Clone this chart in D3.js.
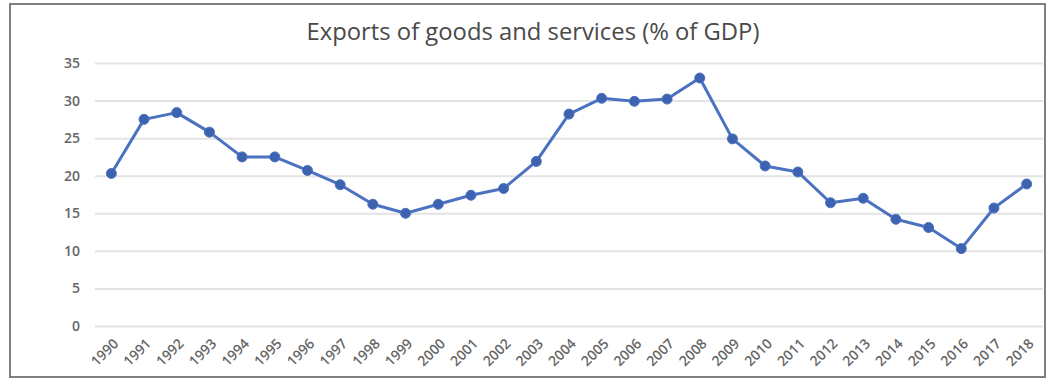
<!DOCTYPE html>
<html><head><meta charset="utf-8">
<script src="https://cdn.jsdelivr.net/npm/d3@7"></script>
<style>body{margin:0;background:#fff}svg{display:block}</style>
</head><body>
<script>
const years = ["1990","1991","1992","1993","1994","1995","1996","1997","1998","1999","2000","2001","2002","2003","2004","2005","2006","2007","2008","2009","2010","2011","2012","2013","2014","2015","2016","2017","2018"];
const exportsPct = [20.3,27.5,28.4,25.8,22.5,22.5,20.7,18.8,16.2,15.0,16.2,17.4,18.3,21.9,28.2,30.3,29.9,30.2,33.0,24.9,21.3,20.5,16.4,17.0,14.2,13.1,10.3,15.7,18.9];
const yTicks = [0,5,10,15,20,25,30,35];
const title = "Exports of goods and services (% of GDP)";

(function(){
const W = 1054, H = 380;
const svg = d3.select("body").append("svg").attr("width", W).attr("height", H);
svg.append("rect").attr("x", 10).attr("y", 4).attr("width", 1035).attr("height", 373)
  .attr("fill", "#fff").attr("stroke", "#7f7f7f").attr("stroke-width", 2);

const pL = 95, pR = 1043, pT = 63, pB = 326;
const x = d3.scalePoint().domain(years).range([pL, pR]).padding(0.5);
const y = d3.scaleLinear().domain([0, 35]).range([pB, pT]);

svg.append("text").attr("x", 533).attr("y", 40).attr("text-anchor", "middle")
  .attr("font-family", "Open Sans, sans-serif").attr("font-size", 23.8).attr("fill", "#4a4a4a").text(title);

const ya = svg.append("g").attr("transform", `translate(${pL},0)`)
  .call(d3.axisLeft(y).tickValues(yTicks).tickSize(-(pR - pL)).tickPadding(15));
ya.select(".domain").remove();
ya.selectAll(".tick line").attr("stroke", "#e3e3e3").attr("stroke-width", 2);
ya.selectAll(".tick text").attr("font-family", "Open Sans, sans-serif").attr("font-size", 14)
  .attr("font-weight", 600).attr("fill", "#666");

const xa = svg.append("g").attr("transform", `translate(0,${pB})`)
  .call(d3.axisBottom(x).tickSize(0).tickPadding(0));
xa.select(".domain").remove();
xa.selectAll(".tick text").attr("font-family", "Open Sans, sans-serif").attr("font-size", 14)
  .attr("font-weight", 600).attr("fill", "#666")
  .attr("text-anchor", "end").attr("dy", "0.35em")
  .attr("transform", "translate(4,15) rotate(-45)");

const line = d3.line().x((d, i) => x(years[i])).y(d => y(d));
svg.append("path").datum(exportsPct).attr("d", line).attr("fill", "none")
  .attr("stroke", "#4a72c0").attr("stroke-width", 3).attr("stroke-linejoin", "round");
svg.selectAll("circle.pt").data(exportsPct).enter().append("circle").attr("class", "pt")
  .attr("cx", (d, i) => x(years[i])).attr("cy", d => y(d)).attr("r", 5)
  .attr("fill", "#3d63b0").attr("stroke", "#4a72c0").attr("stroke-width", 1);
})();
</script>
</body></html>
